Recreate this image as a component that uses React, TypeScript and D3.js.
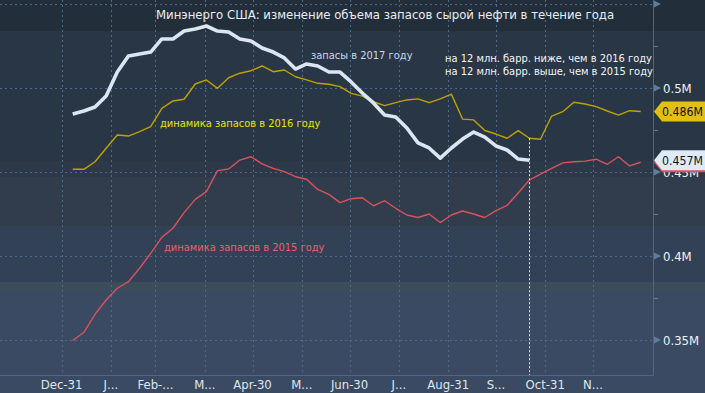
import { useEffect, useRef } from "react";
import * as d3 from "d3";

// weekly EIA crude stocks, first week ending Jan 7
const FIRST_WEEK = new Date(2017, 0, 7);

const stocks2017 = [
  0.4845, 0.4863, 0.4887, 0.4952, 0.5095, 0.519, 0.5202, 0.5214, 0.5292, 0.5292,
  0.5339, 0.5351, 0.5369, 0.5339, 0.5333, 0.5292, 0.528, 0.5238, 0.5214, 0.5179,
  0.5113, 0.5143, 0.5131, 0.5095, 0.5095, 0.5036, 0.497, 0.4911, 0.4839, 0.4827,
  0.4762, 0.4673, 0.4643, 0.4583, 0.4643, 0.4696, 0.4738, 0.4708, 0.4655, 0.4631,
  0.4577, 0.457,
];

const stocks2016 = [
  0.4516, 0.4516, 0.4561, 0.4641, 0.472, 0.4714, 0.474, 0.477, 0.4879, 0.4923,
  0.4933, 0.5024, 0.5048, 0.4998, 0.5061, 0.5088, 0.5103, 0.5131, 0.5097, 0.5107,
  0.5067, 0.5048, 0.5028, 0.5022, 0.5008, 0.4968, 0.4952, 0.4918, 0.4895, 0.4913,
  0.4929, 0.4935, 0.4913, 0.4935, 0.4963, 0.4815, 0.481, 0.4747, 0.4726, 0.4701,
  0.4746, 0.4701, 0.4695, 0.4833, 0.4859, 0.4915, 0.4905, 0.4889, 0.4863, 0.4839,
  0.4865, 0.486,
];

const stocks2015 = [
  0.3496, 0.3546, 0.3653, 0.3738, 0.3808, 0.3847, 0.3927, 0.4016, 0.4111, 0.4165,
  0.4258, 0.4337, 0.4383, 0.4508, 0.4518, 0.4571, 0.4591, 0.4548, 0.4522, 0.4502,
  0.4472, 0.4457, 0.4396, 0.4367, 0.4318, 0.4341, 0.4347, 0.4299, 0.4329, 0.4284,
  0.4244, 0.4229, 0.425, 0.4199, 0.4244, 0.4268, 0.425, 0.4229, 0.427, 0.4301,
  0.4375, 0.4452, 0.4488, 0.4522, 0.4554, 0.4561, 0.4565, 0.4576, 0.4546, 0.4591,
  0.4536, 0.4558,
];

const tickDates = [
  new Date(2016, 11, 31), new Date(2017, 0, 31), new Date(2017, 1, 28), new Date(2017, 2, 31),
  new Date(2017, 3, 30), new Date(2017, 4, 31), new Date(2017, 5, 30), new Date(2017, 6, 31),
  new Date(2017, 7, 31), new Date(2017, 8, 30), new Date(2017, 9, 31), new Date(2017, 10, 30),
];
const tickLabels = ["Dec-31", "J...", "Feb-...", "M...", "Apr-30", "M...", "Jun-30", "J...", "Aug-31", "S...", "Oct-31", "N..."];

const yTicks = [0.35, 0.4, 0.45, 0.5, 0.55];
const yTickLabels = ["0.35M", "0.4M", "0.45M", "0.5M", ""];
const yMinorTicks = [0.375, 0.425, 0.475, 0.525];

const W = 705;
const H = 393;
const PLOT_R = 653;
const PLOT_B = 375;
const FONT = "'DejaVu Sans Condensed', 'Liberation Sans Narrow', 'DejaVu Sans', sans-serif";

const bands: [number, number, string][] = [
  [0, 31, "#222e39"],
  [31, 161, "#293645"],
  [161, 177, "#2d3949"],
  [177, 226, "#313c4d"],
  [226, 282, "#334157"],
  [282, 291, "#3b4d5a"],
  [291, 393, "#3a4a62"],
];

export default function App() {
  const ref = useRef<SVGSVGElement | null>(null);

  useEffect(() => {
    if (!ref.current) return;
    document.body.style.margin = "0";
    const svg = d3.select(ref.current);
    svg.selectAll("*").remove();
    svg.attr("width", W).attr("height", H).style("font-family", FONT);

    const x = d3.scaleTime().domain([tickDates[0], tickDates[11]]).range([61.6, 593]);
    const y = d3.scaleLinear().domain([0.35, 0.5]).range([340, 88]);
    const week = (i: number) => d3.timeWeek.offset(FIRST_WEEK, i);

    svg.selectAll("rect.band").data(bands).enter().append("rect")
      .attr("x", 0).attr("width", W)
      .attr("y", (d) => d[0]).attr("height", (d) => d[1] - d[0])
      .attr("fill", (d) => d[2]);

    // grid
    svg.selectAll("line.hg").data(yTicks).enter().append("line")
      .attr("x1", 0).attr("x2", PLOT_R)
      .attr("y1", (d) => Math.round(y(d)) + 0.5).attr("y2", (d) => Math.round(y(d)) + 0.5)
      .attr("stroke", "#50698a").attr("stroke-dasharray", "2,3");
    svg.selectAll("line.vg").data(tickDates).enter().append("line")
      .attr("x1", (d) => Math.round(x(d)) + 0.5).attr("x2", (d) => Math.round(x(d)) + 0.5)
      .attr("y1", 0).attr("y2", PLOT_B)
      .attr("stroke", "#50698a").attr("stroke-dasharray", "2,3");

    // axes frame
    svg.append("line").attr("x1", 0).attr("x2", PLOT_R + 0.5).attr("y1", PLOT_B + 0.5).attr("y2", PLOT_B + 0.5)
      .attr("stroke", "#4d6883");
    svg.append("line").attr("x1", PLOT_R + 0.5).attr("x2", PLOT_R + 0.5).attr("y1", 0).attr("y2", PLOT_B + 0.5)
      .attr("stroke", "#4d6883");

    // x labels
    svg.selectAll("text.xl").data(tickDates).enter().append("text")
      .attr("x", (d) => x(d)).attr("y", 389)
      .attr("text-anchor", "middle").attr("font-size", 13).attr("fill", "#dfe6ee")
      .text((_, i) => tickLabels[i]);

    // right axis
    svg.selectAll("path.arr").data(yTicks).enter().append("path")
      .attr("d", (d) => `M${PLOT_R + 1},${y(d) - 3.5}L${PLOT_R + 8},${y(d)}L${PLOT_R + 1},${y(d) + 3.5}Z`)
      .attr("fill", "#5d7d9c");
    svg.selectAll("line.mt").data(yMinorTicks).enter().append("line")
      .attr("x1", PLOT_R + 1).attr("x2", PLOT_R + 5)
      .attr("y1", (d) => Math.round(y(d)) + 0.5).attr("y2", (d) => Math.round(y(d)) + 0.5)
      .attr("stroke", "#5d7d9c");
    svg.selectAll("text.yl").data(yTicks).enter().append("text")
      .attr("x", 663).attr("y", (d) => y(d) + 4.5)
      .attr("font-size", 13).attr("fill", "#eef2f6")
      .text((_, i) => yTickLabels[i]);

    // series
    const line = d3.line<number>().x((_, i) => x(week(i))).y((d) => y(d));
    svg.append("path").datum(stocks2015).attr("d", line).attr("fill", "none")
      .attr("stroke", "#d9525c").attr("stroke-width", 1.4).attr("stroke-linejoin", "round");
    svg.append("path").datum(stocks2016).attr("d", line).attr("fill", "none")
      .attr("stroke", "#bfa200").attr("stroke-width", 1.4).attr("stroke-linejoin", "round");
    svg.append("path").datum(stocks2017).attr("d", line).attr("fill", "none")
      .attr("stroke", "#dce6f3").attr("stroke-width", 3.6).attr("stroke-linejoin", "round");

    // dotted marker at latest 2017 week
    const li = stocks2017.length - 1;
    const top = Math.max(stocks2017[li], stocks2016[li], stocks2015[li]);
    svg.append("line")
      .attr("x1", Math.round(x(week(li))) + 0.5).attr("x2", Math.round(x(week(li))) + 0.5)
      .attr("y1", y(top)).attr("y2", PLOT_B)
      .attr("stroke", "#ffffff").attr("stroke-dasharray", "2,2");

    // value tags
    const tag = (v: number, fill: string, txt: string, textColor: string) => {
      const cy = y(v);
      const g = svg.append("g");
      g.append("path")
        .attr("d", `M${PLOT_R + 1},${cy}L${PLOT_R + 9},${cy - 10}L${W},${cy - 10}L${W},${cy + 10}L${PLOT_R + 9},${cy + 10}Z`)
        .attr("fill", fill);
      if (txt) {
        g.append("text").attr("x", 662).attr("y", cy + 4.5)
          .attr("font-size", 12.2).attr("fill", textColor).text(txt);
      }
    };
    tag(stocks2015[stocks2015.length - 1], "#d9525c", "", "#111");
    tag(stocks2017[li], "#dfeaf8", "0.457M", "#0d1620");
    tag(stocks2016[stocks2016.length - 1], "#e3bf12", "0.486M", "#111111");

    // annotations
    svg.append("text").attr("x", 385).attr("y", 19).attr("text-anchor", "middle")
      .attr("font-size", 13).attr("fill", "#e8edf3")
      .text("Минэнерго США: изменение объема запасов сырой нефти в течение года");
    svg.append("text").attr("x", 311).attr("y", 59).attr("font-size", 11).attr("fill", "#c8d8ec")
      .text("запасы в 2017 году");
    svg.append("text").attr("x", 445).attr("y", 62).attr("font-size", 11).attr("fill", "#f2f5f8")
      .text("на 12 млн. барр. ниже, чем в 2016 году");
    svg.append("text").attr("x", 445).attr("y", 75).attr("font-size", 11).attr("fill", "#f2f5f8")
      .text("на 12 млн. барр. выше, чем в 2015 году");
    svg.append("text").attr("x", 160).attr("y", 127).attr("font-size", 11).attr("fill", "#e6e600")
      .text("динамика запасов в 2016 году");
    svg.append("text").attr("x", 164).attr("y", 251).attr("font-size", 11).attr("fill", "#e8606a")
      .text("динамика запасов в 2015 году");
  }, []);

  return <svg ref={ref} style={{ display: "block" }} />;
}
